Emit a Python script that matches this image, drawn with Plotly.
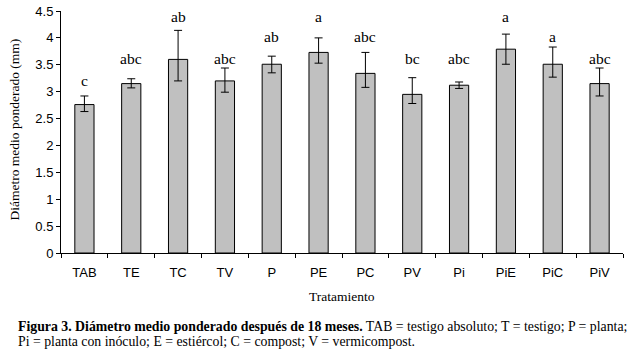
import plotly.graph_objects as go

categories = ["TAB", "TE", "TC", "TV", "P", "PE", "PC", "PV", "Pi", "PiE", "PiC", "PiV"]
means = [2.76, 3.15, 3.60, 3.20, 3.51, 3.73, 3.34, 2.95, 3.12, 3.79, 3.51, 3.15]
err_up = [0.16, 0.09, 0.54, 0.24, 0.15, 0.27, 0.39, 0.31, 0.06, 0.28, 0.32, 0.29]
err_down = [0.13, 0.08, 0.40, 0.21, 0.16, 0.20, 0.26, 0.17, 0.06, 0.28, 0.24, 0.23]
letters = ["c", "abc", "ab", "abc", "ab", "a", "abc", "bc", "abc", "a", "a", "abc"]
letter_y = [3.21, 3.62, 4.40, 3.62, 4.02, 4.40, 4.02, 3.62, 3.62, 4.40, 4.02, 3.62]
y_ticks = [0, 0.5, 1, 1.5, 2, 2.5, 3, 3.5, 4, 4.5]

serif = "Liberation Serif, Times New Roman, serif"
sans = "Liberation Sans, Arial, sans-serif"

fig = go.Figure()
fig.add_trace(go.Bar(
    x=categories, y=means,
    marker=dict(color="#c0c0c0", line=dict(color="black", width=1)),
    error_y=dict(type="data", symmetric=False, array=err_up, arrayminus=err_down,
                 color="black", thickness=1, width=4),
))

for c, t, yy in zip(categories, letters, letter_y):
    fig.add_annotation(x=c, y=yy, text=t, showarrow=False, xref="x", yref="y",
                       font=dict(family=serif, size=15.5, color="black"), yanchor="middle")

fig.add_annotation(x=0.5, y=-0.178, xref="paper", yref="paper", text="Tratamiento",
                   showarrow=False, font=dict(family=serif, size=13.5, color="black"),
                   xanchor="center", yanchor="middle")
fig.add_annotation(x=-0.082, y=0.51, xref="paper", yref="paper",
                   text="Diámetro medio ponderado (mm)", textangle=-90,
                   showarrow=False, font=dict(family=serif, size=13.5, color="black"),
                   xanchor="center", yanchor="middle")
fig.add_annotation(x=-0.08, y=-0.3017, xref="paper", yref="paper",
                   text="<b>Figura 3. Diámetro medio ponderado después de 18 meses.</b> TAB = testigo absoluto; T = testigo; P = planta;",
                   showarrow=False, font=dict(family=serif, size=13.8, color="black"),
                   xanchor="left", yanchor="middle")
fig.add_annotation(x=-0.08, y=-0.364, xref="paper", yref="paper",
                   text="Pi = planta con inóculo; E = estiércol; C = compost; V = vermicompost.",
                   showarrow=False, font=dict(family=serif, size=13.8, color="black"),
                   xanchor="left", yanchor="middle")

fig.update_layout(
    width=634, height=357,
    margin=dict(l=61, r=11, t=11, b=104, autoexpand=False),
    paper_bgcolor="white", plot_bgcolor="white",
    bargap=0.59, showlegend=False,
    xaxis=dict(type="category", showline=True, linecolor="black", linewidth=1,
               ticks="outside", tickson="boundaries", ticklen=4, tickcolor="black",
               showgrid=False, tickfont=dict(family=sans, size=13, color="black"),
               ticklabelstandoff=7, automargin=False, ticklabeloverflow="allow"),
    yaxis=dict(range=[0, 4.5], tickvals=y_ticks, showline=True, linecolor="black",
               linewidth=1, ticks="outside", ticklen=4, tickcolor="black",
               showgrid=False, zeroline=False, automargin=False,
               ticklabeloverflow="allow",
               tickfont=dict(family=sans, size=13, color="black")),
)

fig.write_html("out.html", config={"displayModeBar": False},
               post_script="document.body.style.margin='0';document.body.style.overflow='hidden';")
